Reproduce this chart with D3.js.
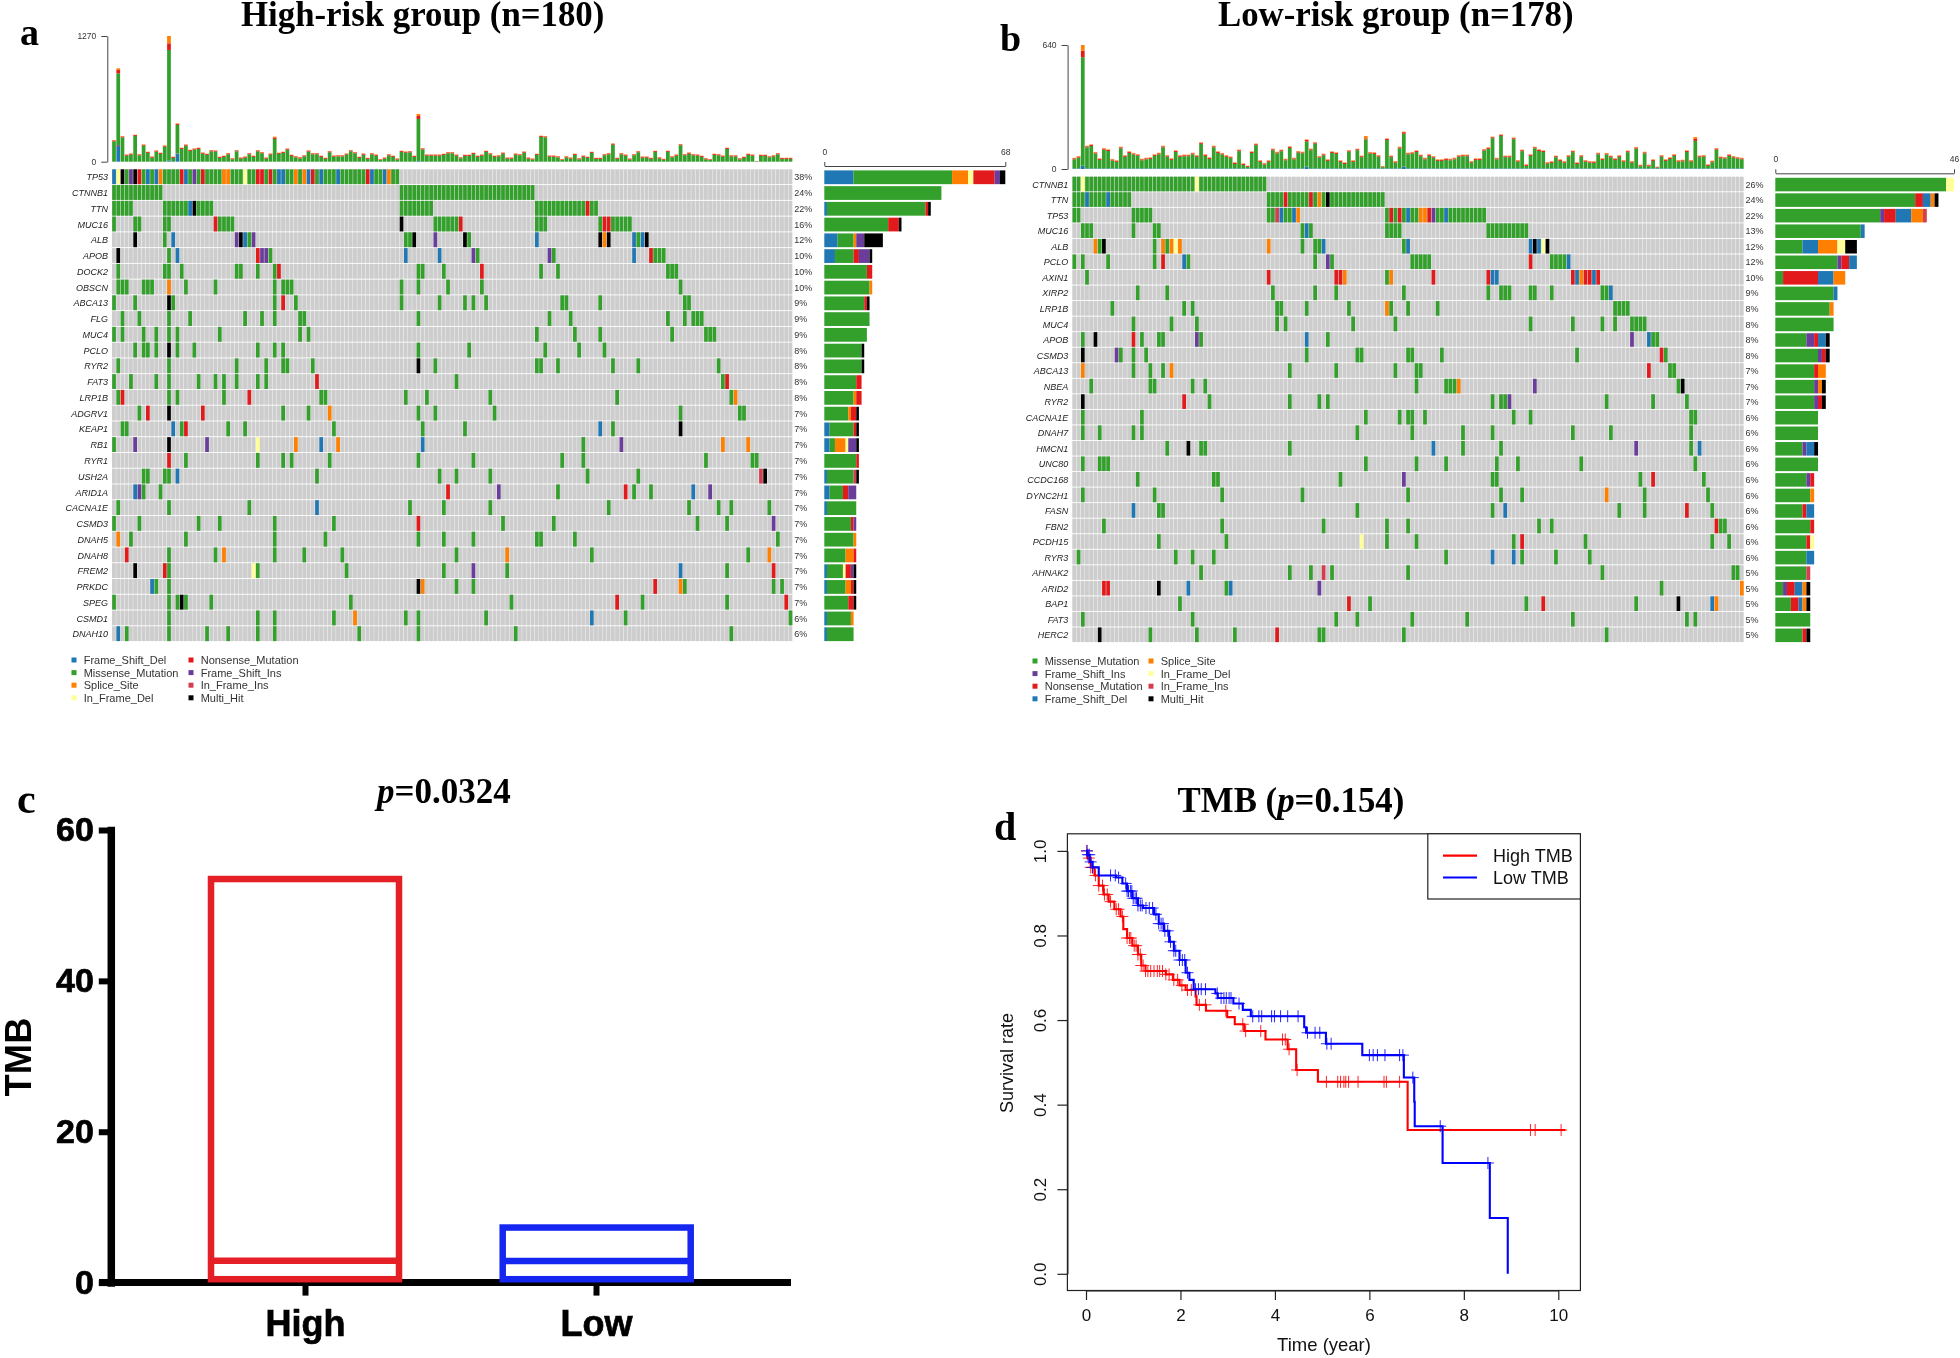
<!DOCTYPE html>
<html><head><meta charset="utf-8">
<script src="https://cdn.jsdelivr.net/npm/d3@7"></script>
<style>
html,body{margin:0;padding:0;background:#fff;overflow:hidden}
svg{display:block;filter:blur(.4px)}
text{font-family:"Liberation Sans",Arial,sans-serif}
.serif{font-family:"Liberation Serif","Times New Roman",serif;font-weight:bold}
</style></head><body>
<svg id="fig" width="1960" height="1358"></svg>
<script>
// ---------- oncoplot a: High-risk ----------
const aGenes=["TP53","CTNNB1","TTN","MUC16","ALB","APOB","DOCK2","OBSCN","ABCA13","FLG","MUC4","PCLO","RYR2","FAT3","LRP1B","ADGRV1","KEAP1","RB1","RYR1","USH2A","ARID1A","CACNA1E","CSMD3","DNAH5","DNAH8","FREM2","PRKDC","SPEG","CSMD1","DNAH10"];
const aPercents=["38%","24%","22%","16%","12%","10%","10%","10%","9%","9%","9%","8%","8%","8%","8%","7%","7%","7%","7%","7%","7%","7%","7%","7%","7%","7%","7%","7%","6%","6%"];
// per gene: sample column[-column] + type (none=missense, b=frameshift del, o=splice, y=in-frame del, r=nonsense, p=frameshift ins, i=in-frame ins, k=multi hit)
const aCells=[
"0b 1y 2k 3 4p 5k 6r 7 8b 9 10b 11o 12-15 16r 17b 18 19p 20 21r 22-25 26-27o 28-30 31y 32-33 34-35r 36 37r 38 39-40b 41-42 43o 44 45o 46b 47r 48 49b 50-52 53b 54-59 60r 61b 62-63 64b 65o 66-67",
"0-11 68-99",
"0-4 12-17 18b 19k 20-23 68-75 100-111 112r 113-114",
"0 5-6 12-13 24r 25-28 68k 76-81 82r 100-102 115 116-117r 118-122",
"5k 12 14b 29p 30k 31b 32 33p 69-70 71k 76p 83k 84 100b 115k 116o 117k 123b 124 125b 126k",
"1k 13 15b 34r 35-36p 37 69b 77b 85p 86 103p 104 123b 127r 128-130",
"1 12-13 16 29-30 34 38 39r 72-73 78 87r 101 105 131-133",
"1-3 7-9 13o 17 24 38 40-42 68 72 79 87 134",
"0 5 13k 14 38 40r 43 68 77 83 85 88 106-107 115 135-136",
"2 6 13 18 31 35 38 44-45 72 103 108 131 135 137-139",
"0 2 7 10 13 15 25 44 46 100 109 115 132 140-142",
"5 7-8 10 13k 15 19 34 38 40 72 84 102 110 116",
"1 13 29 36 40-41 47 72k 76 100-101 105 118 124 143",
"0 4 10 13 20 24 26 29 34 36 48r 81 144 145r",
"1 2r 13 15 26 32r 49-50 69 74 89 119 146 147o",
"6 8r 13k 21r 40 46 51o 72 76 90 134 148-149",
"2-3 14b 16 17r 27 31 52 73 83 115b 118 134k",
"0 5p 13k 22p 34y 43o 49b 53o 73b 111 120p 144o 150o",
"13r 17 34 40 42 51 72 85 106 111 140 151-152",
"7-8 12-13 15b 48 77 81 89 112 124 153i 154k",
"5b 6p 7 11 79r 91p 105 121r 123 127 137b 141p",
"1 13 32 48b 70 78 89 117 136 143 146 155",
"0 6 20 25 38 52 72r 92 104 138 145 156p",
"1o 4 17 38 50 72 78 85 100-101 109 157",
"3r 13 24 26o 38 45 54 81 93o 113 150 155o",
"5k 12r 13 33y 34 55 78 85p 93 134b 145 156r",
"9b 10 13 72k 73o 81 85 128r 134o 135 156 158",
"0 13 15 16k 17 23 56 94 119r 125 145 159r",
"13 34 38 52 57o 69 72 88 113b 121 160",
"1b 3 13 22 27 34 38 58 72 95 146"];
const aTotals=[219,943,259,74,84,273,77,175,101,54,115,91,165,1270,51,387,142,175,121,135,142,94,81,118,115,51,61,88,37,118,44,54,88,61,118,98,44,84,253,91,101,135,71,57,47,67,115,88,88,61,40,108,64,67,67,84,118,98,51,84,40,88,74,27,44,77,61,34,111,104,108,61,482,138,74,74,74,74,81,98,98,74,47,71,71,91,61,74,111,88,61,67,94,44,44,84,78,104,44,34,81,263,259,64,64,57,27,57,44,81,37,64,51,101,40,40,78,88,185,40,88,74,34,78,108,54,54,40,111,47,30,111,57,74,179,78,94,78,74,61,37,27,81,78,64,142,67,67,37,51,81,74,7,71,71,57,67,88,40,40,40];
const aTopMax=1270;
const aSmallTop={red:9,orange:4};
const aTopExtras={1:{red:34,orange:17,blue:150,purple:17},13:{red:67,orange:74,blue:12},15:{red:10,orange:5,blue:77,purple:5},72:{red:30,orange:20,blue:8},38:{red:15,orange:8}};
const aLegend=[["Frame_Shift_Del","b"],["Missense_Mutation","m"],["Splice_Site","o"],["In_Frame_Del","y"],["Nonsense_Mutation","r"],["Frame_Shift_Ins","p"],["In_Frame_Ins","i"],["Multi_Hit","k"]];
const aStackOrder=["b","m","o","y","r","p","i","k"];

// ---------- oncoplot b: Low-risk ----------
const bGenes=["CTNNB1","TTN","TP53","MUC16","ALB","PCLO","AXIN1","XIRP2","LRP1B","MUC4","APOB","CSMD3","ABCA13","NBEA","RYR2","CACNA1E","DNAH7","HMCN1","UNC80","CCDC168","DYNC2H1","FASN","FBN2","PCDH15","RYR3","AHNAK2","ARID2","BAP1","FAT3","HERC2"];
const bPercents=["26%","24%","22%","13%","12%","12%","10%","9%","8%","8%","8%","8%","7%","7%","7%","6%","6%","6%","6%","6%","6%","6%","6%","6%","6%","5%","5%","5%","5%","5%"];
const bCells=[
"0-1 2y 3-28 29y 30-45",
"0-2 3b 4-7 8b 9-13 46-49 50r 51-55 56r 57 58o 59 60k 61-73",
"0-1 14-18 46-47 48i 49b 50-51 52b 53o 74 75r 76 77r 78 79b 80-81 82-83o 84r 85p 86-87 88b 89-97",
"2-4 14 19-20 54 55b 56 74-77 98-107",
"5o 6 7k 19 21o 22 23o 24y 25o 46o 54 57-58 59b 78 79b 108b 109k 110b 111y 112k",
"0 2 8 19 21r 26b 27 57 60p 61 80-84 108r 113-116 117b",
"3 46r 62-63r 64o 74 75o 85r 98r 99-100b 118r 119b 120o 121-122r 123b 124r",
"15 22 47 57 62 78 98 101-103 108-109 113 125-126 127b",
"9 26 28 48-49 55 65 74o 75 79 86 128-131",
"14 23 29 48 50 66 76 108 118 125 128 132-135",
"2 5k 14r 16 20-21 29p 30 55b 60 132p 136b 137-138",
"2k 10p 11 14 17 55 67-68 79-80 87 119 139r 140",
"2o 14 18 21 23o 51 62 76 81-82 136r 141-142",
"4 18-19 28 31 81 88-90 91o 109p 143 144k",
"2k 26r 32 51 58 60 99 101-102 103p 126 137 145",
"2 16 69 77 79-80 83 104 108 146-147",
"2 6 14 16 67 80 92 99 118 127 146",
"22 27k 30-31 51 85b 92 101 133p 146 148b",
"2 6-8 69 81 88 100 105 120 147",
"15 33-34 63 78p 99-100 134 137r 149",
"2 19 35 54 79 101 106 126o 135 150",
"14b 20-21 67 99 102b 129 135 145r 151",
"7 35 59 74 79 110 113 152r 153-154",
"20 36 68y 74 81 104 106r 121 151 155",
"1 24 28 33 88 99b 104b 106 114 122",
"30 51 56 59i 61 79 125 156-157",
"7-8r 20k 27b 36 37b 58p 139 158o",
"25 65r 70 107 111r 133 143k 151b 152o",
"2 28 62 67 80 93 118 145 147",
"6k 18 29 38 48r 58-59 78 126"];
const bTotals=[58,67,640,120,127,88,55,108,101,52,45,115,71,91,83,77,53,58,60,76,84,120,72,55,96,71,74,74,84,71,138,76,60,120,91,83,71,64,34,100,29,17,91,131,45,31,45,105,89,100,53,117,58,93,89,153,105,139,67,79,50,91,86,45,34,98,45,105,69,170,88,86,72,15,158,69,41,115,193,84,88,96,74,58,76,67,50,50,55,53,58,72,74,74,41,55,55,103,112,167,58,179,69,69,162,46,100,24,76,115,101,96,36,40,69,50,41,72,95,34,72,46,41,40,84,55,83,69,55,71,46,95,41,114,22,89,22,50,12,72,50,60,76,46,48,96,46,165,69,72,24,43,108,64,62,76,67,62,58];
const bTopMax=640;
const bSmallTop={red:5,orange:3,blue:3};
const bTopExtras={2:{red:34,orange:29,blue:17},55:{red:8,orange:3,blue:12},78:{red:8,orange:3,blue:12},69:{red:5,orange:12,blue:3},147:{red:10,orange:10,blue:3}};
const bLegend=[["Missense_Mutation","m"],["Frame_Shift_Ins","p"],["Nonsense_Mutation","r"],["Frame_Shift_Del","b"],["Splice_Site","o"],["In_Frame_Del","y"],["In_Frame_Ins","i"],["Multi_Hit","k"]];
const bStackOrder=["m","p","r","b","o","y","i","k"];

const typeColors={m:"#33a02c",b:"#1f78b4",o:"#ff7f00",y:"#ffff99",r:"#e31a1c",p:"#6a3d9a",i:"#d53e4f",k:"#000000"};

// ---------- panel c ----------
const cGroups=["High","Low"];
const cBoxTop=[53.5,7.3];
const cBoxMedian=[2.9,2.85];
const cBoxBottom=[0.45,0.45];
const cColors=["#e41f26","#1426ef"];
const cTicks=[0,20,40,60];

// ---------- panel d: step survival curves [time, survival] ----------
const dHighSteps=[[0,1],[.03,.983],[.10,.961],[.18,.942],[.27,.918],[.37,.897],[.48,.880],[.60,.862],[.73,.845],[.79,.815],[.87,.794],[.98,.776],[1.10,.755],[1.17,.729],[1.26,.716],[1.69,.708],[1.84,.695],[1.98,.682],[2.11,.671],[2.32,.656],[2.34,.636],[2.54,.622],[2.99,.607],[3.15,.590],[3.35,.574],[3.80,.554],[4.27,.531],[4.45,.482],[4.91,.454],[6.81,.340],[10.15,.340]];
const dHighCensor=[.02,.06,.10,.14,.20,.27,.35,.39,.45,.52,.64,.69,.77,.87,.92,.95,1.02,1.06,1.10,1.15,1.17,1.21,1.26,1.31,1.37,1.44,1.51,1.56,1.62,1.69,1.76,1.86,1.94,2.03,2.15,2.23,2.40,2.53,2.96,3.32,3.38,3.70,4.16,4.22,4.30,4.47,5.09,5.33,5.39,5.46,5.50,5.56,5.76,6.31,6.36,6.64,9.41,9.51,10.06];
const dLowSteps=[[0,1],[.03,.991],[.08,.974],[.14,.961],[.27,.942],[.64,.937],[.77,.923],[.87,.905],[.98,.888],[1.10,.871],[1.21,.865],[1.44,.850],[1.54,.828],[1.65,.811],[1.76,.785],[1.86,.764],[1.98,.742],[2.11,.712],[2.19,.695],[2.28,.673],[2.74,.663],[2.79,.652],[3.12,.639],[3.32,.624],[3.49,.609],[4.62,.583],[4.66,.570],[5.08,.544],[5.85,.517],[6.73,.464],[6.95,.407],[6.96,.349],[7.55,.262],[8.55,.132],[8.93,0]];
const dLowCensor=[.02,.04,.07,.10,.14,.52,.62,.69,.84,.87,.90,.94,.97,1.0,1.04,1.07,1.10,1.15,1.19,1.27,1.34,1.41,1.48,1.54,1.59,1.63,1.67,1.73,1.79,1.86,1.90,1.98,2.04,2.09,2.15,2.32,2.38,2.44,2.53,2.78,2.86,2.92,2.97,3.03,3.07,3.24,3.53,3.66,3.72,3.93,3.99,4.12,4.27,4.49,4.69,4.85,4.95,5.10,5.19,6.0,6.08,6.17,6.33,6.64,6.71,6.92,7.50,8.51];
const dXTicks=[0,2,4,6,8,10];
const dYTicks=[0,.2,.4,.6,.8,1];
const dLegend=[["High TMB","#ff0000"],["Low TMB","#0000ff"]];

// ---------- drawing ----------
const svg=d3.select("#fig");
svg.append("rect").attr("width",1960).attr("height",1358).attr("fill","#fff");

function parseRow(s){
  const out=[];
  s.split(" ").forEach(tok=>{
    const m=tok.match(/^(\d+)(?:-(\d+))?([a-z]?)$/);
    const a=+m[1],b=m[2]?+m[2]:a,t=m[3]||"m";
    for(let c=a;c<=b;c++)out.push({col:c,type:t});
  });
  return out;
}

function oncoplot(o){
  const g=svg.append("g");
  const x=d3.scaleBand().domain(d3.range(o.totals.length)).range([o.x0,o.x1]);
  const y=d3.scaleBand().domain(o.genes).range([o.y0,o.y1]);
  o.genes.forEach(gene=>{
    g.append("g").selectAll("rect").data(d3.range(o.totals.length)).join("rect")
      .attr("x",c=>x(c)).attr("y",y(gene)).attr("width",x.bandwidth()-.35).attr("height",y.bandwidth()-.9)
      .attr("fill","#cdcdcd");
  });
  const xr=d3.scaleLinear().domain([0,o.barMax]).range([o.rx0,o.rx1]);
  o.cells.forEach((s,i)=>{
    const gene=o.genes[i],row=parseRow(s);
    g.append("g").selectAll("rect").data(row).join("rect")
      .attr("x",d=>x(d.col)+.2).attr("y",y(gene)).attr("width",x.bandwidth()-.55).attr("height",y.bandwidth()-.9)
      .attr("fill",d=>typeColors[d.type]);
    const counts=d3.rollup(row,v=>v.length,d=>d.type);
    let acc=0;
    const segs=o.order.filter(t=>counts.has(t)).map(t=>{const d={t,a:acc,b:acc+counts.get(t)};acc=d.b;return d;});
    g.append("g").selectAll("rect").data(segs).join("rect")
      .attr("x",d=>xr(d.a)).attr("width",d=>xr(d.b)-xr(d.a))
      .attr("y",y(gene)+1.1).attr("height",y.bandwidth()-2)
      .attr("fill",d=>typeColors[d.t]);
    g.append("text").attr("x",o.x0-4).attr("y",y(gene)+y.bandwidth()/2+3.2)
      .attr("text-anchor","end").attr("font-style","italic").attr("font-size",9).attr("fill","#222").text(gene);
    g.append("text").attr("x",o.x1+1.5).attr("y",y(gene)+y.bandwidth()/2+3.2)
      .attr("font-size",9).attr("fill","#333").text(o.percents[i]);
  });
  const yt=d3.scaleLinear().domain([0,o.topMax]).range([o.topY0,o.topY1]);
  o.totals.forEach((tot,c)=>{
    const e=Object.assign({},o.small,o.extras[c]||{});
    const red=Math.min(e.red||0,tot*.25),ora=Math.min(e.orange||0,tot*.12),blue=Math.min(e.blue||0,tot*.3),pur=e.purple||0;
    const green=tot-red-ora-blue-pur;
    let acc=0;
    [["b",blue],["p",pur],["m",green],["r",red],["o",ora]].forEach(([t,v])=>{
      if(v<=0)return;
      g.append("rect").attr("x",x(c)+.15).attr("width",x.bandwidth()-.5)
       .attr("y",yt(acc+v)).attr("height",yt(acc)-yt(acc+v)).attr("fill",typeColors[t]);
      acc+=v;
    });
  });
  const ax=g.append("g").attr("transform",`translate(${o.x0-4.7},0)`)
    .call(d3.axisLeft(yt).tickValues([0,o.topMax]).tickSize(6).tickSizeOuter(0).tickPadding(5).tickFormat(d3.format("d")));
  ax.selectAll("text").attr("font-size",8.5).attr("fill","#333").style("font-family","Liberation Sans");
  ax.selectAll("path,line").attr("stroke","#444").attr("stroke-width",1);
  const ar=g.append("g").attr("transform",`translate(0,${o.ry})`)
    .call(d3.axisTop(xr).tickValues([0,o.barMax]).tickSize(4).tickSizeOuter(0).tickPadding(7).tickFormat(d3.format("d")));
  ar.selectAll("text").attr("font-size",8.5).attr("fill","#333").style("font-family","Liberation Sans");
  ar.selectAll("path,line").attr("stroke","#444").attr("stroke-width",1);
  o.legend.forEach(([name,t],i)=>{
    const col=Math.floor(i/4),r=i%4;
    const lx=o.legX[col],ly=o.legY+r*12.6;
    g.append("rect").attr("x",lx-2.5).attr("y",ly-2.5).attr("width",5).attr("height",5).attr("fill",typeColors[t]);
    g.append("text").attr("x",lx+9.7).attr("y",ly+4).attr("font-size",11).attr("fill","#333").text(name);
  });
}

oncoplot({genes:aGenes,percents:aPercents,cells:aCells,totals:aTotals,topMax:aTopMax,small:aSmallTop,extras:aTopExtras,
  legend:aLegend,order:aStackOrder,x0:112,x1:792.7,y0:169.3,y1:642,topY0:161.7,topY1:36,
  rx0:824.3,rx1:1005.3,barMax:68,ry:166,legX:[74,191],legY:660});
oncoplot({genes:bGenes,percents:bPercents,cells:bCells,totals:bTotals,topMax:bTopMax,small:bSmallTop,extras:bTopExtras,
  legend:bLegend,order:bStackOrder,x0:1072.3,x1:1744,y0:176.7,y1:643,topY0:169,topY1:45,
  rx0:1775.3,rx1:1954,barMax:46,ry:173.3,legX:[1035,1151],legY:661});

function serif(txt,x,y,size,anchor){return svg.append("text").attr("class","serif").attr("x",x).attr("y",y).attr("font-size",size).attr("text-anchor",anchor||"start").attr("fill","#000").text(txt);}
serif("High-risk group (n=180)",241,25.5,34.8);
serif("Low-risk group (n=178)",1218,25.5,34.8);
serif("a",20,45,38);
serif("b",1000,51,38);
serif("c",17,813,42);
serif("d",994,840,40);

// ---------- panel c ----------
{
  const g=svg.append("g");
  const y=d3.scaleLinear().domain([0,60]).range([1282.6,830]);
  const x=d3.scalePoint().domain(cGroups).range([305,596]);
  const axY=g.append("g").attr("transform","translate(110.8,0)")
    .call(d3.axisLeft(y).tickValues(cTicks).tickSize(12).tickSizeOuter(0).tickPadding(5));
  axY.selectAll("path").attr("stroke","#000").attr("stroke-width",7.5).attr("stroke-linecap","square");
  axY.selectAll("line").attr("stroke","#000").attr("stroke-width",6);
  axY.selectAll("text").attr("font-size",34).attr("font-weight","bold").attr("fill","#000").attr("stroke","#000").attr("stroke-width",.7).style("font-family","Liberation Sans");
  const axX=g.append("g").attr("transform",`translate(0,${y(0)})`)
    .call(d3.axisBottom(x).tickSize(13).tickSizeOuter(0).tickPadding(15));
  axX.select("path").remove();
  axX.selectAll("line").attr("stroke","#000").attr("stroke-width",6);
  axX.selectAll("text").attr("font-size",36).attr("font-weight","bold").attr("fill","#000").attr("stroke","#000").attr("stroke-width",.7).style("font-family","Liberation Sans");
  g.append("line").attr("x1",99).attr("x2",791).attr("y1",y(0)).attr("y2",y(0)).attr("stroke","#000").attr("stroke-width",7);
  const boxW=188;
  cGroups.forEach((k,i)=>{
    g.append("rect").attr("x",x(k)-boxW/2+(i?0.7:0)).attr("width",boxW).attr("y",y(cBoxTop[i])).attr("height",y(cBoxBottom[i])-y(cBoxTop[i]))
      .attr("fill","none").attr("stroke",cColors[i]).attr("stroke-width",6.5);
    g.append("line").attr("x1",x(k)-boxW/2+(i?0.7:0)).attr("x2",x(k)+boxW/2+(i?0.7:0)).attr("y1",y(cBoxMedian[i])).attr("y2",y(cBoxMedian[i]))
      .attr("stroke",cColors[i]).attr("stroke-width",6.5);
  });
  g.append("text").attr("transform","translate(31,1057) rotate(-90)").attr("text-anchor","middle")
    .attr("font-size",36.4).attr("font-weight","bold").text("TMB");
  const p=serif("",377,803,35);
  p.append("tspan").attr("font-style","italic").text("p");
  p.append("tspan").text("=0.0324");
}

// ---------- panel d ----------
{
  const g=svg.append("g");
  const x=d3.scaleLinear().domain([0,10]).range([1086,1558.3]);
  const y=d3.scaleLinear().domain([0,1]).range([1273.8,850.9]);
  const t=serif("",1177.6,812,34.8);
  t.append("tspan").text("TMB (");
  t.append("tspan").attr("font-style","italic").text("p");
  t.append("tspan").text("=0.154)");
  g.append("rect").attr("x",1067.4).attr("y",833.8).attr("width",513).attr("height",456.7).attr("fill","none").attr("stroke","#222").attr("stroke-width",1.2);
  const axX=g.append("g").attr("transform","translate(0,1290.5)")
    .call(d3.axisBottom(x).tickValues(dXTicks).tickSize(9.5).tickSizeOuter(0).tickPadding(9).tickFormat(d3.format("d")));
  axX.selectAll("text").attr("font-size",17).attr("fill","#111").style("font-family","Liberation Sans");
  axX.selectAll("path,line").attr("stroke","#222").attr("stroke-width",1.2);
  const axY=g.append("g").attr("transform","translate(1067.4,0)")
    .call(d3.axisLeft(y).tickValues(dYTicks).tickSize(10).tickSizeOuter(0).tickFormat(d3.format(".1f")));
  axY.selectAll("text").attr("font-size",17).attr("fill","#111").style("font-family","Liberation Sans")
    .attr("transform","rotate(-90)").attr("x",0).attr("y",-27).attr("dy",".35em").attr("text-anchor","middle");
  axY.selectAll("path,line").attr("stroke","#222").attr("stroke-width",1.2);
  g.append("text").attr("x",1324).attr("y",1351).attr("text-anchor","middle").attr("font-size",18.5).attr("fill","#111").text("Time (year)");
  g.append("text").attr("transform","translate(1013,1063) rotate(-90)").attr("text-anchor","middle").attr("font-size",18).attr("fill","#111").text("Survival rate");
  const line=d3.line().curve(d3.curveStepAfter).x(d=>x(d[0])).y(d=>y(d[1]));
  function curve(steps,cens,color){
    g.append("path").attr("d",line(steps)).attr("fill","none").attr("stroke",color).attr("stroke-width",2.1);
    const at=t=>{let s=1;for(const d of steps){if(d[0]<=t)s=d[1];else break;}return s;};
    const m=g.append("g").attr("stroke",color).attr("stroke-width",1).attr("opacity",.85);
    cens.forEach(t=>{
      const cx=x(t),cy=y(at(t));
      m.append("line").attr("x1",cx-6).attr("x2",cx+6).attr("y1",cy).attr("y2",cy);
      m.append("line").attr("x1",cx).attr("x2",cx).attr("y1",cy-6).attr("y2",cy+6);
    });
  }
  curve(dHighSteps,dHighCensor,"#ff0000");
  curve(dLowSteps,dLowCensor,"#0000ff");
  g.append("rect").attr("x",1427.8).attr("y",833.8).attr("width",152.6).attr("height",65.2).attr("fill","#fff").attr("stroke","#222").attr("stroke-width",1.2);
  dLegend.forEach(([name,c],i)=>{
    const ly=855.6+i*21.9;
    g.append("line").attr("x1",1443).attr("x2",1477).attr("y1",ly).attr("y2",ly).attr("stroke",c).attr("stroke-width",2.1);
    g.append("text").attr("x",1493).attr("y",ly+6.4).attr("font-size",18).attr("fill","#111").text(name);
  });
}
</script>
</body></html>
